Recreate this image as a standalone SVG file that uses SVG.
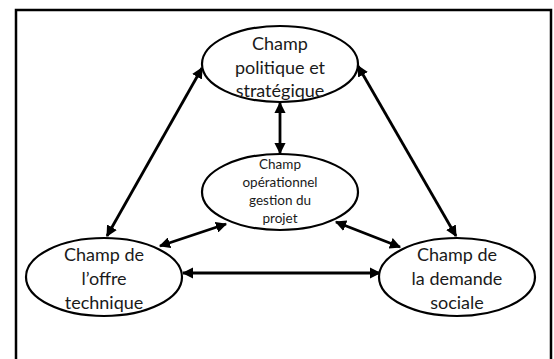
<svg xmlns="http://www.w3.org/2000/svg" width="554" height="359" viewBox="0 0 554 359">
<style>
.node ellipse{fill:#fff;stroke:#000;stroke-width:2.2}
.big{font-family:Lato,"Open Sans","Liberation Sans",sans-serif;font-size:18px;fill:#1a1a1a;text-anchor:middle}
.small{font-family:Lato,"Open Sans","Liberation Sans",sans-serif;font-size:13.5px;fill:#1a1a1a;text-anchor:middle}
.conn line{stroke:#000;stroke-width:2.8;marker-start:url(#a);marker-end:url(#a)}
</style>
<defs>
<marker id="a" viewBox="0 0 10 10" refX="9" refY="5" markerWidth="4" markerHeight="4" orient="auto-start-reverse" markerUnits="strokeWidth">
<path d="M0,0 L10,5 L0,10 Z" fill="#000"/>
</marker>
</defs>
<rect x="16" y="10" width="535" height="370" fill="#fff" stroke="#000" stroke-width="2.5"/>
<g class="conn">
<line x1="107" y1="236" x2="202" y2="68"/>
<line x1="358" y1="66" x2="456" y2="236"/>
<line x1="280" y1="103" x2="280" y2="153"/>
<line x1="160" y1="246" x2="226" y2="224"/>
<line x1="336" y1="222" x2="400" y2="247"/>
<line x1="183" y1="273" x2="380" y2="273"/>
</g>
<g id="n-politique" class="node">
<ellipse cx="280" cy="64" rx="78" ry="38"/>
<text class="big" x="280" y="50">Champ</text>
<text class="big" x="280" y="74">politique et</text>
<text class="big" x="280" y="97">stratégique</text>
</g>
<g id="n-operationnel" class="node">
<ellipse cx="280" cy="192" rx="78" ry="38"/>
<text class="small" x="280" y="169">Champ</text>
<text class="small" x="280" y="187">opérationnel</text>
<text class="small" x="280" y="205">gestion du</text>
<text class="small" x="280" y="223">projet</text>
</g>
<g id="n-offre" class="node">
<ellipse cx="104" cy="277" rx="78" ry="39"/>
<text class="big" x="104" y="261">Champ de</text>
<text class="big" x="104" y="285">l’offre</text>
<text class="big" x="104" y="309">technique</text>
</g>
<g id="n-demande" class="node">
<ellipse cx="457" cy="277" rx="78" ry="39"/>
<text class="big" x="457" y="261">Champ de</text>
<text class="big" x="457" y="285">la demande</text>
<text class="big" x="457" y="309">sociale</text>
</g>
</svg>
